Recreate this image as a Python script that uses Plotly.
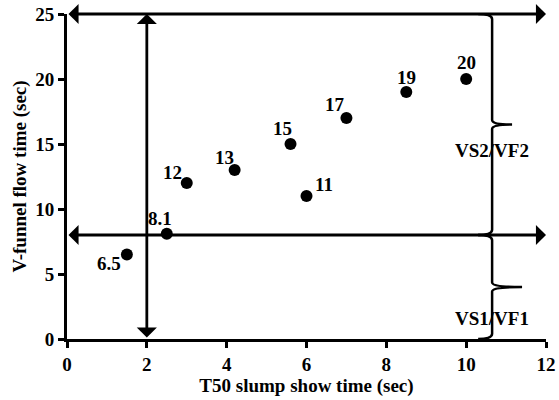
import plotly.graph_objects as go

# Measured mixes: T50 slump flow time vs V-funnel flow time
t50_time = [1.5, 2.5, 3.0, 4.2, 5.6, 6.0, 7.0, 8.5, 10.0]
vfunnel_time = [6.5, 8.1, 12, 13, 15, 11, 17, 19, 20]
point_labels = ["6.5", "8.1", "12", "13", "15", "11", "17", "19", "20"]
# pixel offset of each label from its point (x right, y up)
label_dx = [-18, -7, -14, -10, -8, 17, -11, 0, 0]
label_dy = [-9, 15, 11, 13, 16, 12, 14, 15, 17]

# Class boundaries
t50_limit = 2
vf_limit = 8
x_max, y_max = 12, 25
class_names = ["VS1/VF1", "VS2/VF2"]

FONT = "Liberation Serif"
SIZE = 19


def font(size=SIZE):
    return dict(family=FONT, size=size, color="black", weight="bold")


fig = go.Figure()
fig.add_trace(go.Scatter(
    x=t50_time, y=vfunnel_time, mode="markers",
    marker=dict(color="black", size=12),
    cliponaxis=False, showlegend=False,
))
for x, y, t, dx, dy in zip(t50_time, vfunnel_time, point_labels, label_dx, label_dy):
    fig.add_annotation(x=x, y=y, text=t, showarrow=False, xshift=dx, yshift=dy,
                       font=font())

arrow = dict(showarrow=True, arrowside="end+start", arrowhead=1, arrowsize=1.2,
             arrowwidth=2.8, arrowcolor="black", axref="x", ayref="y",
             xref="x", yref="y", text="")
# top boundary, V-funnel limit and T50 limit arrows
fig.add_annotation(x=x_max, y=y_max, ax=0, ay=y_max, **arrow)
fig.add_annotation(x=x_max, y=vf_limit, ax=0, ay=vf_limit, **arrow)
fig.add_annotation(x=t50_limit, y=y_max, ax=t50_limit, ay=0, **arrow)

# curly braces marking the two classes
bx = 10.65


def brace(y0, y1, tip):
    ym = (y0 + y1) / 2
    return (f"M {bx-0.35},{y1} Q {bx},{y1} {bx},{y1-0.4} L {bx},{ym+0.35} "
            f"Q {bx},{ym} {tip},{ym} Q {bx},{ym} {bx},{ym-0.35} "
            f"L {bx},{y0+0.4} Q {bx},{y0} {bx-0.35},{y0}")


fig.add_shape(type="path", path=brace(0, vf_limit, 11.4), xref="x", yref="y",
              line=dict(color="black", width=2.5))
fig.add_shape(type="path", path=brace(vf_limit, y_max, 11.15), xref="x", yref="y",
              line=dict(color="black", width=2.5))

fig.add_annotation(x=bx, y=1.6, text=class_names[0], showarrow=False, font=font())
fig.add_annotation(x=bx, y=14.5, text=class_names[1], showarrow=False, font=font())

axis_common = dict(showline=True, linewidth=3, linecolor="black", ticks="outside",
                   tickwidth=2.5, ticklen=6, tickcolor="black", showgrid=False,
                   zeroline=False, dtick=2, automargin=False, tickfont=font())
fig.update_xaxes(range=[0, x_max], title=dict(text="T50 slump show time (sec)",
                 font=font(), standoff=4), **axis_common)
fig.update_yaxes(range=[0, y_max], title=dict(text="V-funnel flow time (sec)",
                 font=font(), standoff=4), **{**axis_common, "dtick": 5})

fig.update_layout(width=559, height=400, margin=dict(l=67, r=13, t=14, b=61),
                  plot_bgcolor="white", paper_bgcolor="white")
fig.write_html("out.html")
